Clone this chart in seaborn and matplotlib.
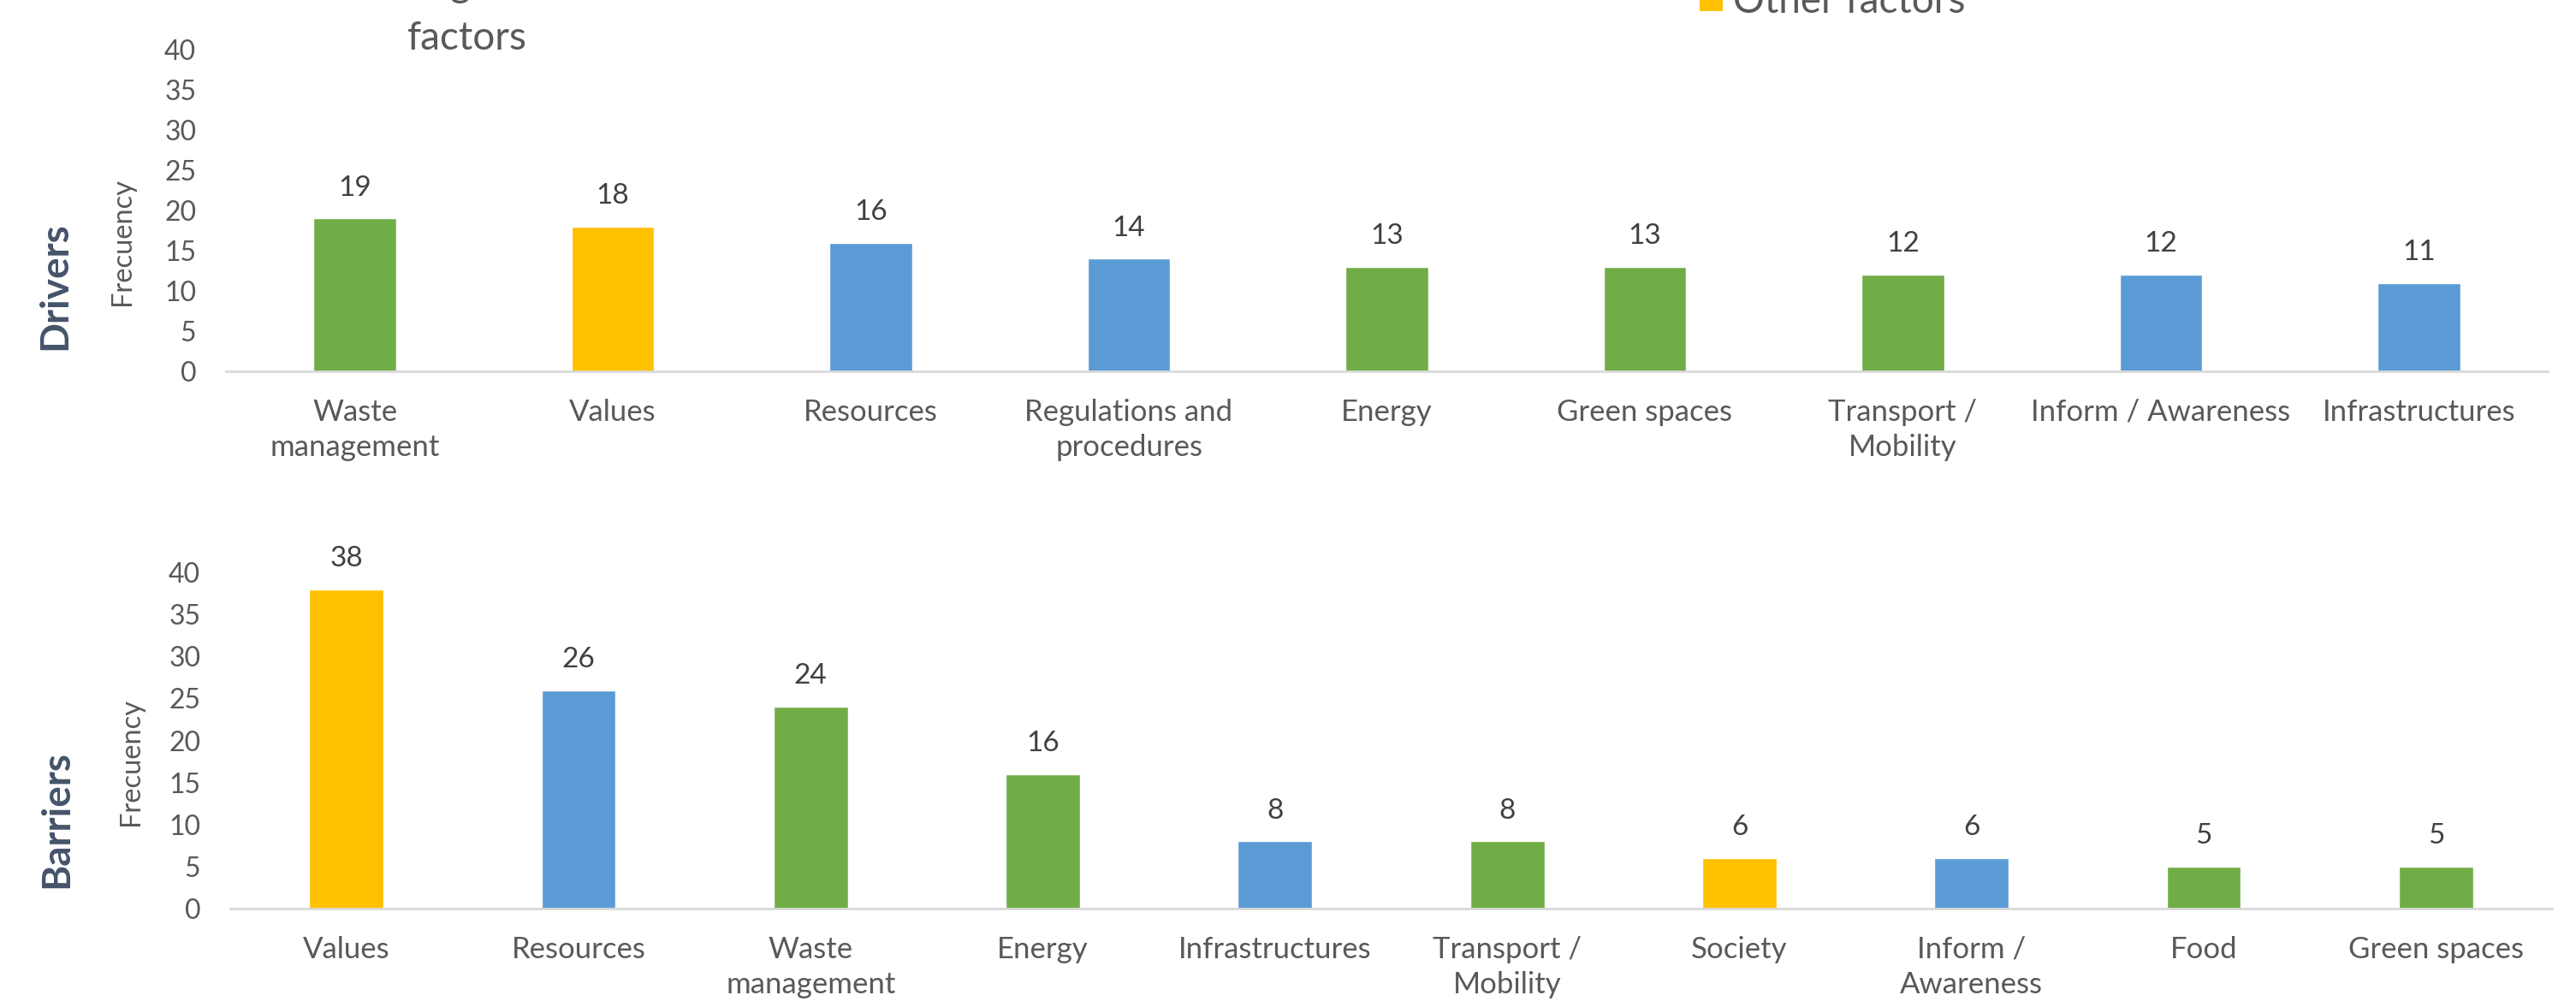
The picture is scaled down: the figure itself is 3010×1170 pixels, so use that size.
import matplotlib
matplotlib.use("Agg")
import matplotlib.pyplot as plt
from matplotlib.patches import Rectangle
import seaborn as sns
import pandas as pd

# ---- data -------------------------------------------------------------
drivers_labels = ["Waste\nmanagement", "Values", "Resources", "Regulations and\nprocedures",
                  "Energy", "Green spaces", "Transport /\nMobility", "Inform / Awareness",
                  "Infrastructures"]
drivers_values = [19, 18, 16, 14, 13, 13, 12, 12, 11]
drivers_groups = ["Environmental", "Other", "Management", "Management",
                  "Environmental", "Environmental", "Environmental", "Management", "Management"]

barriers_labels = ["Values", "Resources", "Waste\nmanagement", "Energy", "Infrastructures",
                   "Transport /\nMobility", "Society", "Inform /\nAwareness", "Food", "Green spaces"]
barriers_values = [38, 26, 24, 16, 8, 8, 6, 6, 5, 5]
barriers_groups = ["Other", "Management", "Environmental", "Environmental", "Management",
                   "Environmental", "Other", "Management", "Environmental", "Environmental"]

y_ticks = [0, 5, 10, 15, 20, 25, 30, 35, 40]

palette = {"Environmental": "#70AD47", "Management": "#5B9BD5", "Other": "#FFC000"}

TEXT = "#595959"
VALUE_TEXT = "#404040"
TITLE = "#44546A"
AXIS = "#D9D9D9"

sns.set_theme(style="white")
plt.rcParams["font.family"] = ["Lato", "DejaVu Sans"]

W, H = 3010, 1170
fig = plt.figure(figsize=(W / 100, H / 100), dpi=100)


def panel(rect, labels, values, groups):
    ax = fig.add_axes(rect)
    df = pd.DataFrame({"factor": labels, "freq": values, "group": groups})
    sns.barplot(data=df, x="factor", y="freq", hue="group", palette=palette,
                order=labels, dodge=False, width=0.32, saturation=1,
                legend=False, ax=ax)
    for cont in ax.containers:
        ax.bar_label(cont, labels=[f"{v:g}" if v == v else "" for v in cont.datavalues],
                     padding=15, fontsize=24, color=VALUE_TEXT)
    ax.set_xlim(-0.5, len(labels) - 0.5)
    ax.set_ylim(0, 40)
    ax.set_yticks(y_ticks)
    ax.set_xlabel("")
    ax.set_ylabel("")
    for s in ("top", "right", "left"):
        ax.spines[s].set_visible(False)
    ax.spines["bottom"].set_color(AXIS)
    ax.spines["bottom"].set_linewidth(2)
    ax.tick_params(axis="both", length=0, colors=TEXT)
    ax.tick_params(axis="y", labelsize=23, pad=25)
    ax.tick_params(axis="x", labelsize=25, pad=23)
    for t in ax.get_xticklabels():
        t.set_linespacing(1.35)
        t.set_verticalalignment("top")
    return ax


def fx(px):
    return px / W


def fy(py):
    return 1 - py / H


# Drivers panel
ax1 = panel([fx(264), fy(434), fx(2977 - 264), (434 - 58) / H],
            drivers_labels, drivers_values, drivers_groups)
# Barriers panel
ax2 = panel([fx(269), fy(1062), fx(2982 - 269), (1062 - 669) / H],
            barriers_labels, barriers_values, barriers_groups)

# axis titles
fig.text(fx(143), fy(282), "Frecuency", rotation=90, ha="center", va="center",
         fontsize=23.5, color=TEXT)
fig.text(fx(153), fy(890), "Frecuency", rotation=90, ha="center", va="center",
         fontsize=23.5, color=TEXT)
fig.text(fx(64), fy(334), "Drivers", rotation=90, ha="center", va="center",
         fontsize=33, fontweight="bold", color=TITLE)
fig.text(fx(66), fy(957), "Barriers", rotation=90, ha="center", va="center",
         fontsize=33, fontweight="bold", color=TITLE)

# legend entries along the top edge
fig.text(fx(546), fy(58), "factors", ha="center", va="baseline", fontsize=33, color=TEXT)
fig.text(fx(546), fy(-4), "Management", ha="center", va="baseline", fontsize=33, color=TEXT)
fig.patches.append(Rectangle((fx(1986), fy(13)), fx(27), 27 / H,
                             transform=fig.transFigure, facecolor=palette["Other"],
                             edgecolor="none"))
fig.text(fx(2025), fy(15), "Other factors", ha="left", va="baseline", fontsize=33, color=TEXT)

fig.savefig("out.png", dpi=100)
